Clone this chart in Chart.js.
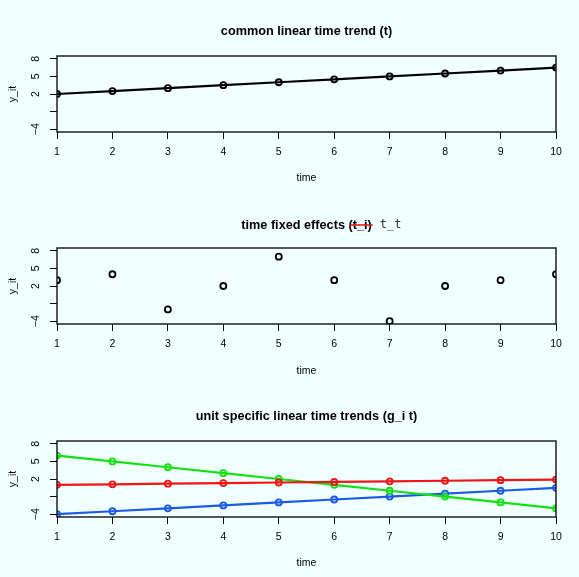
<!DOCTYPE html>
<html>
<head>
<meta charset="utf-8">
<script src="https://cdn.jsdelivr.net/npm/chart.js@4"></script>
<style>
  html, body { margin: 0; padding: 0; background: #F0FFFF; }
  canvas { display: block; }
</style>
</head>
<body>
<canvas id="panel1" width="579" height="192"></canvas>
<canvas id="panel2" width="579" height="193"></canvas>
<canvas id="panel3" width="579" height="192"></canvas>
<script>
const timePoints = [1, 2, 3, 4, 5, 6, 7, 8, 9, 10];
const commonTrend = [2, 2.5, 3, 3.5, 4, 4.5, 5, 5.5, 6, 6.5];
const timeEffects = [3, 4, -2, 2, 7, 3, -4, 2, 3, 4];
const unitRed = [1, 1.1, 1.2, 1.3, 1.4, 1.5, 1.6, 1.7, 1.8, 1.9];
const unitGreen = [6, 5, 4, 3, 2, 1, 0, -1, -2, -3];
const unitBlue = [-4, -3.5, -3, -2.5, -2, -1.5, -1, -0.5, 0, 0.5];
const yTicks = [-4, -1, 2, 5, 8];
const yTickLabels = ['\u22124', '', '2', '5', '8'];

const FONT = '"Liberation Sans", Arial, sans-serif';
const PLOT_TOP = 56;
const PLOT_BOTTOM = 132;

function toPoints(values) {
    return timePoints.map((t, i) => ({ x: t, y: values[i] }));
}

// frame, rotated y tick labels and the panel title
const panelDecor = {
    id: 'panelDecor',
    afterDraw(chart, args, opts) {
        const ctx = chart.ctx;
        const area = chart.chartArea;
        const yScale = chart.scales.y;
        ctx.save();
        ctx.strokeStyle = '#111';
        ctx.lineWidth = 1.4;
        ctx.strokeRect(area.left, area.top, area.right - area.left, area.bottom - area.top);

        ctx.fillStyle = '#000';
        ctx.font = '10.5px ' + FONT;
        ctx.textAlign = 'center';
        ctx.textBaseline = 'middle';
        yTicks.forEach((v, i) => {
            if (!yTickLabels[i]) return;
            ctx.save();
            ctx.translate(36, yScale.getPixelForValue(v));
            ctx.rotate(-Math.PI / 2);
            ctx.fillText(yTickLabels[i], 0, 0);
            ctx.restore();
        });

        const cx = (area.left + area.right) / 2;
        ctx.font = 'bold 12.7px ' + FONT;
        ctx.textBaseline = 'middle';
        ctx.textAlign = 'center';
        ctx.fillText(opts.text, cx, opts.y);
        if (opts.struck) {
            const full = ctx.measureText(opts.text).width;
            const head = ctx.measureText(opts.text.slice(0, opts.text.length - opts.struck.length)).width;
            const x0 = cx - full / 2 + head;
            const x1 = cx + full / 2;
            ctx.strokeStyle = '#e8191a';
            ctx.lineWidth = 1.6;
            ctx.beginPath();
            ctx.moveTo(x0 + 1, opts.y);
            ctx.lineTo(x1 + 1, opts.y);
            ctx.stroke();
            ctx.font = '12px "DejaVu Sans Mono", monospace';
            ctx.fillStyle = '#333';
            ctx.textAlign = 'left';
            ctx.fillText(opts.extra, x1 + 8, opts.y);
        }
        ctx.restore();
    }
};

function makeDataset(values, color, showLine) {
    return {
        data: toPoints(values),
        borderColor: color,
        backgroundColor: 'rgba(0,0,0,0)',
        borderWidth: 2.2,
        showLine: showLine,
        pointRadius: 3,
        pointBorderWidth: 1.8,
        pointBackgroundColor: 'rgba(0,0,0,0)',
        pointBorderColor: color,
        tension: 0,
        clip: 0
    };
}

function buildPanel(canvasId, datasets, title) {
    const canvas = document.getElementById(canvasId);
    const h = canvas.height;
    new Chart(canvas.getContext('2d'), {
        type: 'line',
        data: { datasets: datasets },
        options: {
            responsive: false,
            animation: false,
            events: [],
            layout: { padding: { top: PLOT_TOP, right: 23, left: 0, bottom: 0 } },
            plugins: {
                legend: { display: false },
                tooltip: { enabled: false },
                panelDecor: title
            },
            scales: {
                x: {
                    type: 'linear',
                    min: 1,
                    max: 10,
                    afterBuildTicks: scale => { scale.ticks = timePoints.map(v => ({ value: v })); },
                    afterFit: scale => { scale.height = h - PLOT_BOTTOM; },
                    ticks: {
                        color: '#000',
                        padding: 7,
                        maxRotation: 0,
                        font: { family: FONT, size: 10.5 }
                    },
                    grid: { drawOnChartArea: false, tickLength: 7, color: '#000', lineWidth: 1 },
                    border: { display: false },
                    title: {
                        display: true,
                        text: 'time',
                        color: '#000',
                        font: { family: FONT, size: 10.5 },
                        padding: { top: 0, bottom: 8 }
                    }
                },
                y: {
                    type: 'linear',
                    min: -4.48,
                    max: 8.48,
                    afterBuildTicks: scale => { scale.ticks = yTicks.map(v => ({ value: v })); },
                    afterFit: scale => { scale.width = 57; },
                    ticks: { display: false },
                    grid: { drawOnChartArea: false, tickLength: 7, color: '#000', lineWidth: 1 },
                    border: { display: false },
                    title: {
                        display: true,
                        text: 'y_it',
                        color: '#000',
                        font: { family: FONT, size: 10.5 },
                        padding: { top: 7, bottom: 0 }
                    }
                }
            }
        },
        plugins: [panelDecor]
    });
}

buildPanel('panel1', [makeDataset(commonTrend, '#000', true)],
    { text: 'common linear time trend (t)', y: 31 });
buildPanel('panel2', [makeDataset(timeEffects, '#000', false)],
    { text: 'time fixed effects (t_i)', y: 33, struck: '(t_i)', extra: 't_t' });
buildPanel('panel3', [
    makeDataset(unitRed, '#f01414', true),
    makeDataset(unitGreen, '#14e014', true),
    makeDataset(unitBlue, '#1a5ae6', true)
], { text: 'unit specific linear time trends (g_i t)', y: 31 });
</script>
</body>
</html>
